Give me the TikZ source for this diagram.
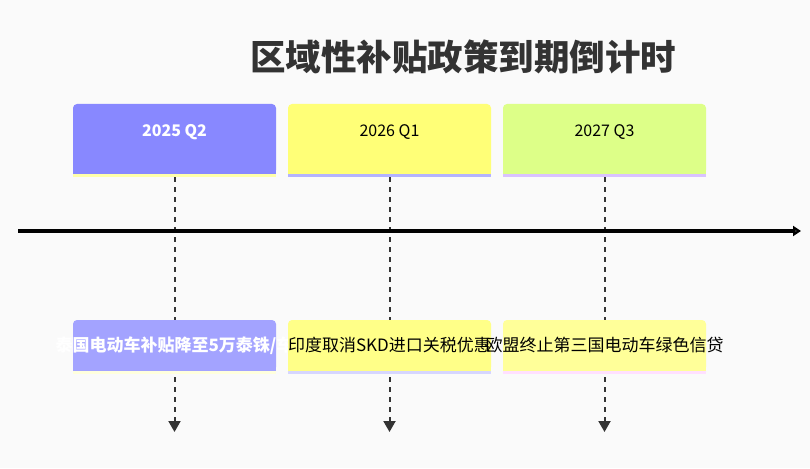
\documentclass[tikz,border=0pt]{standalone}
\usepackage{fontspec}
\setmainfont{Noto Sans CJK SC}
\usetikzlibrary{arrows.meta}
\definecolor{bg}{HTML}{FAFAFA}
\definecolor{ink}{HTML}{333333}
\definecolor{hA}{HTML}{8888FF}
\definecolor{hB}{HTML}{FFFF77}
\definecolor{hC}{HTML}{DDFF88}
\definecolor{hsA}{HTML}{FFFFAA}
\definecolor{hsB}{HTML}{B3B3FF}
\definecolor{hsC}{HTML}{D9C2FF}
\definecolor{eA}{HTML}{A3A3FF}
\definecolor{eB}{HTML}{FFFF88}
\definecolor{eC}{HTML}{FFFF99}
\definecolor{esA}{HTML}{FFFFDD}
\definecolor{esB}{HTML}{D6D6FF}
\definecolor{esC}{HTML}{FFE0FF}
\newcommand{\spill}[1]{\makebox[0pt][c]{#1}}

\begin{document}
\begin{tikzpicture}[
  x=1pt, y=-1pt,
  every node/.style = {inner sep=0pt},
  %% box styles
  hbox/.style  = {rectangle, rounded corners=4pt, minimum width=203pt,
                  text height=32pt, text depth=38pt,
                  font=\fontsize{16}{19}\selectfont},
  ebox/.style  = {rectangle, rounded corners=4pt, minimum width=203pt,
                  minimum height=51pt, font=\fontsize{17}{20}\selectfont},
  %% arrows
  tick/.style  = {draw=ink, line width=2pt, dash pattern=on 5pt off 5pt,
                  -{Triangle[length=11pt, width=12pt]}},
  axis/.style  = {draw=black, line width=4pt,
                  -{Triangle[length=8pt, width=10pt, fill=ink]}}
]
\fill[bg] (0,0) rectangle (810,468);
\useasboundingbox (0,0) rectangle (810,468);

%% ---- Title ----
\node[font=\fontsize{35.5}{40}\selectfont\bfseries, text=ink] (TTL)
  at (463,57) {区域性补贴政策到期倒计时};

%% ---- Period boxes ----
\node[hbox, fill=hA, text=white, font=\fontsize{16}{19}\selectfont\bfseries]
  (H1) at (174.5,139) {2025 Q2};
\fill[hA]  ([yshift=5pt]H1.south west) rectangle (H1.south east);
\fill[hsA] (H1.south west) rectangle ([yshift=-3pt]H1.south east);

\node[hbox, fill=hB, text=black] (H2) at (389.5,139) {2026 Q1};
\fill[hB]  ([yshift=5pt]H2.south west) rectangle (H2.south east);
\fill[hsB] (H2.south west) rectangle ([yshift=-3pt]H2.south east);

\node[hbox, fill=hC, text=black] (H3) at (604.5,139) {2027 Q3};
\fill[hC]  ([yshift=5pt]H3.south west) rectangle (H3.south east);
\fill[hsC] (H3.south west) rectangle ([yshift=-3pt]H3.south east);

%% ---- Drop lines ----
\coordinate (A1) at (174.5,432);
\coordinate (A2) at (389.5,432);
\coordinate (A3) at (604.5,432);
\draw[tick] ([yshift=-3pt]H1.south) -- (A1);
\draw[tick] ([yshift=-3pt]H2.south) -- (A2);
\draw[tick] ([yshift=-3pt]H3.south) -- (A3);

%% ---- Time axis ----
\coordinate (T0) at (18,231);
\coordinate (T1) at (801,231);
\draw[axis] (T0) -- (T1);

%% ---- Event boxes ----
\node[ebox, fill=eA, text=white, font=\fontsize{17}{20}\selectfont\bfseries]
  (E1) at (174.5,345.5) {\spill{泰国电动车补贴降至5万泰铢/车}};
\fill[eA]  ([yshift=5pt]E1.south west) rectangle (E1.south east);
\fill[esA] (E1.south west) rectangle ([yshift=-3pt]E1.south east);

\node[ebox, fill=eB, text=black] (E2) at (389.5,345.5)
  {\spill{印度取消SKD进口关税优惠}};
\fill[eB]  ([yshift=5pt]E2.south west) rectangle (E2.south east);
\fill[esB] (E2.south west) rectangle ([yshift=-3pt]E2.south east);

\node[ebox, fill=eC, text=black] (E3) at (604.5,345.5)
  {\spill{欧盟终止第三国电动车绿色信贷}};
\fill[eC]  ([yshift=5pt]E3.south west) rectangle (E3.south east);
\fill[esC] (E3.south west) rectangle ([yshift=-3pt]E3.south east);

\end{tikzpicture}
\end{document}
